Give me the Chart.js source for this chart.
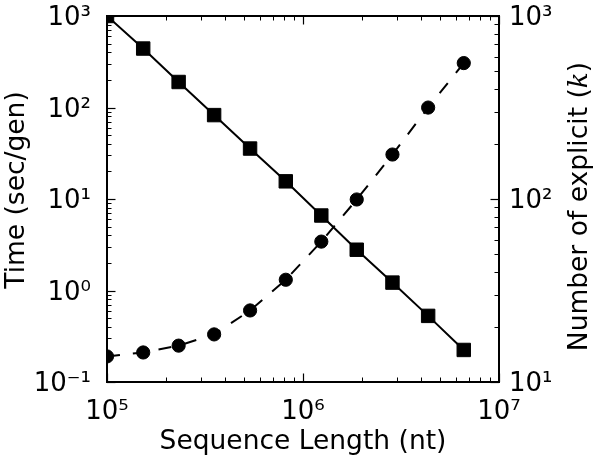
<!DOCTYPE html>
<html><head><meta charset="utf-8">
<script src="https://cdn.jsdelivr.net/npm/chart.js@4/dist/chart.umd.min.js"></script>
<style>html,body{margin:0;padding:0;background:#fff}#wrap{width:600px;height:461px;position:relative}</style>
</head><body><div id="wrap"><canvas id="c"></canvas></div>
<script>
// ---- data ----
const seqLength = [1.0e5, 1.53e5, 2.32e5, 3.52e5, 5.37e5, 8.17e5, 1.24e6, 1.88e6, 2.86e6, 4.35e6, 6.61e6];
const timeSecPerGen = [1000, 441, 190, 82.6, 35.6, 15.6, 6.6, 2.79, 1.22, 0.528, 0.224];
const numExplicit = [13.8, 14.5, 15.8, 18.2, 24.6, 36.2, 58.5, 99.4, 175, 316, 553];
const xTickValues = [1e5, 1e6, 1e7];
const yTickValues = [0.1, 1, 10, 100, 1000];
const y2TickValues = [10, 100, 1000];
const xTitle = 'Sequence Length (nt)';
const yTitle = 'Time (sec/gen)';
const y2TitleParts = ['Number of explicit (', 'k', ')'];

const FONT = "'DejaVu Sans'";
const SUP = {'0':'\u2070','1':'\u00B9','2':'\u00B2','3':'\u00B3','4':'\u2074','5':'\u2075','6':'\u2076','7':'\u2077','8':'\u2078','9':'\u2079','-':'\u207B'};
function powLabel(v){
  const l = Math.log10(v), e = Math.round(l);
  if (Math.abs(l - e) > 1e-6) return '';
  return '10' + String(e).split('').map(c => SUP[c]).join('');
}
function logTicks(min, max){
  const out = [];
  for (let e = Math.floor(Math.log10(min)); e < Math.round(Math.log10(max)); e++) {
    for (let m = 1; m <= 9; m++) out.push({v: m * Math.pow(10, e), major: m === 1});
  }
  out.push({v: max, major: true});
  return out;
}

const framePlugin = {
  id: 'frameTicks',
  afterDatasetsDraw(chart) {
    const {ctx, chartArea: a, scales} = chart;
    ctx.save();
    ctx.strokeStyle = '#000';
    const MAJ = 8.5, MIN = 4.5;
    logTicks(scales.x.min, scales.x.max).forEach(t => {
      const px = Math.round(scales.x.getPixelForValue(t.v)) + 0.5;
      const L = t.major ? MAJ : MIN;
      ctx.lineWidth = t.major ? 1.2 : 1;
      ctx.beginPath();
      ctx.moveTo(px, a.bottom); ctx.lineTo(px, a.bottom - L);
      ctx.moveTo(px, a.top); ctx.lineTo(px, a.top + L);
      ctx.stroke();
    });
    logTicks(scales.y.min, scales.y.max).forEach(t => {
      const py = Math.round(scales.y.getPixelForValue(t.v)) + 0.5;
      const L = t.major ? MAJ : MIN;
      ctx.lineWidth = t.major ? 1.2 : 1;
      ctx.beginPath(); ctx.moveTo(a.left, py); ctx.lineTo(a.left + L, py); ctx.stroke();
    });
    logTicks(scales.y2.min, scales.y2.max).forEach(t => {
      const py = Math.round(scales.y2.getPixelForValue(t.v)) + 0.5;
      const L = t.major ? MAJ : MIN;
      ctx.lineWidth = t.major ? 1.2 : 1;
      ctx.beginPath(); ctx.moveTo(a.right, py); ctx.lineTo(a.right - L, py); ctx.stroke();
    });
    ctx.lineWidth = 2;
    ctx.strokeRect(a.left, a.top, a.right - a.left, a.bottom - a.top);
    ctx.restore();
  },
  afterDraw(chart) {
    const ctx = chart.ctx;
    ctx.save();
    ctx.fillStyle = '#000';
    ctx.textBaseline = 'alphabetic';
    ctx.font = "26.5px " + FONT;
    ctx.translate(24, 190);
    ctx.rotate(-Math.PI / 2);
    ctx.textAlign = 'center';
    ctx.fillText(yTitle, 0, 0);
    ctx.restore();
    ctx.save();
    ctx.fillStyle = '#000';
    ctx.textBaseline = 'alphabetic';
    ctx.textAlign = 'left';
    const fonts = ["26.5px " + FONT, "italic 26.5px 'DejaVu Serif'", "26.5px " + FONT];
    const widths = y2TitleParts.map((s, i) => { ctx.font = fonts[i]; return ctx.measureText(s).width; });
    const total = widths.reduce((p, c) => p + c, 0);
    ctx.translate(586.5, 206.5);
    ctx.rotate(-Math.PI / 2);
    let x = -total / 2;
    y2TitleParts.forEach((s, i) => { ctx.font = fonts[i]; ctx.fillText(s, x, 0); x += widths[i]; });
    ctx.restore();
  }
};

const tickFont = {family: FONT, size: 26};
new Chart(document.getElementById('c'), {
  type: 'line',
  data: {
    datasets: [
      {
        label: 'Number of explicit',
        yAxisID: 'y2',
        data: seqLength.map((x, i) => ({x, y: numExplicit[i]})),
        borderColor: '#000', backgroundColor: '#000', borderWidth: 2,
        borderDash: [13, 13],
        pointStyle: 'circle', pointRadius: 6.6, pointBorderWidth: 1,
        pointBackgroundColor: '#000', pointBorderColor: '#000',
        tension: 0, clip: 0
      },
      {
        label: 'Time',
        yAxisID: 'y',
        data: seqLength.map((x, i) => ({x, y: timeSecPerGen[i]})),
        borderColor: '#000', backgroundColor: '#000', borderWidth: 2,
        pointStyle: 'rect', pointRadius: 9.5, pointBorderWidth: 1,
        pointBackgroundColor: '#000', pointBorderColor: '#000',
        tension: 0, clip: 0
      }
    ]
  },
  options: {
    responsive: true, maintainAspectRatio: false, animation: false,
    layout: {autoPadding: false, padding: {top: 16, left: 0, right: 0, bottom: 0}},
    plugins: {legend: {display: false}, tooltip: {enabled: false}},
    scales: {
      x: {
        type: 'logarithmic', position: 'bottom', min: 1e5, max: 1e7,
        afterBuildTicks: s => { s.ticks = xTickValues.map(v => ({value: v})); },
        afterFit: s => { s.height = 79; s.paddingLeft = 0; s.paddingRight = 0; },
        grid: {display: false, drawTicks: false},
        border: {display: false},
        ticks: {callback: v => powLabel(v), font: tickFont, color: '#000', padding: 15, autoSkip: false, maxRotation: 0},
        title: {display: true, text: xTitle, font: {family: FONT, size: 26.5, lineHeight: 1.2}, color: '#000', padding: {top: 0, bottom: 2.5}}
      },
      y: {
        type: 'logarithmic', position: 'left', min: 0.1, max: 1000,
        afterBuildTicks: s => { s.ticks = yTickValues.map(v => ({value: v})); },
        afterFit: s => { s.width = 107; s.paddingTop = 0; s.paddingBottom = 0; },
        grid: {display: false, drawTicks: false},
        border: {display: false},
        ticks: {callback: v => powLabel(v), font: tickFont, color: '#000', padding: 16, autoSkip: false, labelOffset: 2.5}
      },
      y2: {
        type: 'logarithmic', position: 'right', min: 10, max: 1000,
        afterBuildTicks: s => { s.ticks = y2TickValues.map(v => ({value: v})); },
        afterFit: s => { s.width = 101; s.paddingTop = 0; s.paddingBottom = 0; },
        grid: {display: false, drawTicks: false},
        border: {display: false},
        ticks: {callback: v => powLabel(v), font: tickFont, color: '#000', padding: 10, autoSkip: false, labelOffset: 2.5}
      }
    }
  },
  plugins: [framePlugin]
});
</script>
</body></html>
